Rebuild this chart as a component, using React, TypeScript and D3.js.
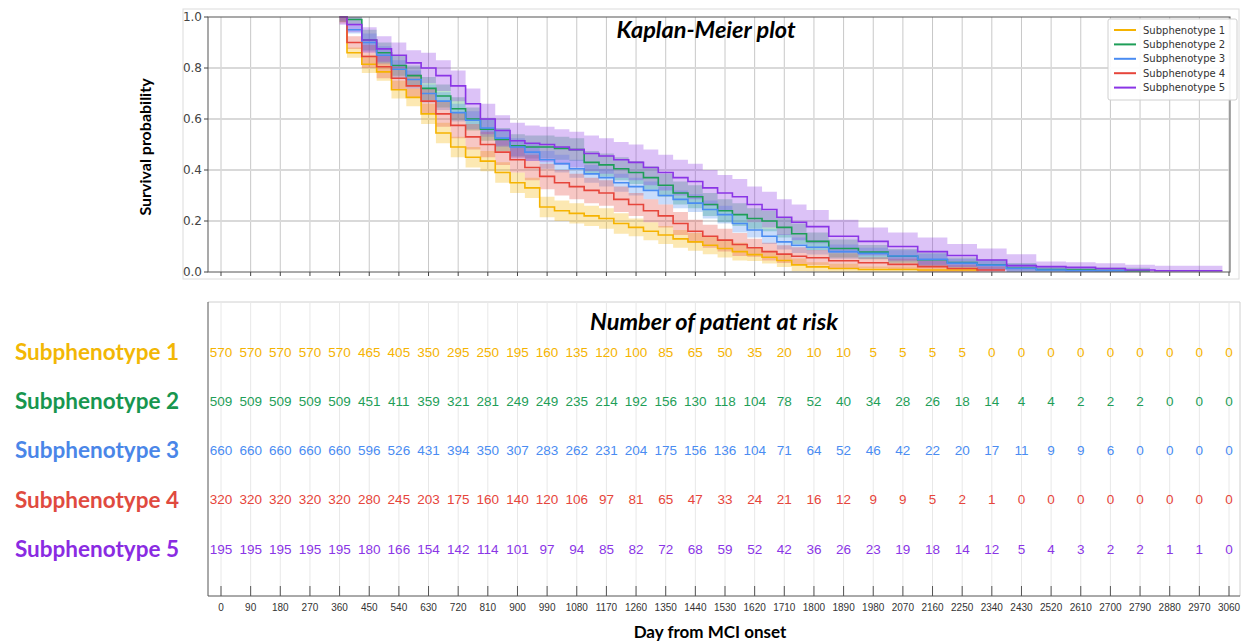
import React from "react";
import * as d3 from "d3";

const W = 1242;
const H = 641;

const groups = ["Subphenotype 1", "Subphenotype 2", "Subphenotype 3", "Subphenotype 4", "Subphenotype 5"];
const lineColors = ["#f5b301", "#1e9e58", "#4a8cf2", "#e6453b", "#8a35e6"];
const labelColors = ["#f2b705", "#17964f", "#4a86e8", "#e04a3f", "#8a2be2"];

// survival curve readings (day -> probability), null after the last event
const days = [360, 405, 450, 495, 540, 585, 630, 675, 720, 765, 810, 855, 900, 945, 990, 1035, 1080,
  1125, 1170, 1215, 1260, 1305, 1350, 1395, 1440, 1485, 1530, 1575, 1620, 1665, 1710, 1755, 1800,
  1890, 1980, 2070, 2160, 2250, 2340, 2430, 2520, 2610, 2700, 2790, 2880, 2970];

const surv1 = [1.0, 0.86, 0.815, 0.785, 0.715, 0.685, 0.62, 0.545, 0.49, 0.45, 0.435, 0.39, 0.35, 0.33, 0.255, 0.24, 0.23,
  0.22, 0.21, 0.19, 0.175, 0.16, 0.145, 0.13, 0.118, 0.105, 0.092, 0.08, 0.068, 0.058, 0.045, 0.028, 0.02,
  0.014, 0.01, 0.01, 0.008, 0.008, null, null, null, null, null, null, null, null];
const surv2 = [1.0, 0.99, 0.91, 0.86, 0.81, 0.77, 0.72, 0.69, 0.64, 0.6, 0.56, 0.52, 0.495, 0.49, 0.49, 0.485, 0.48,
  0.43, 0.42, 0.405, 0.39, 0.37, 0.34, 0.31, 0.295, 0.265, 0.24, 0.225, 0.21, 0.2, 0.175, 0.15, 0.12,
  0.092, 0.078, 0.062, 0.048, 0.037, 0.028, 0.015, 0.01, 0.008, 0.006, 0.005, null, null];
const surv3 = [1.0, 0.95, 0.9, 0.85, 0.795, 0.755, 0.7, 0.67, 0.625, 0.595, 0.565, 0.525, 0.49, 0.47, 0.44, 0.425, 0.405,
  0.385, 0.37, 0.35, 0.335, 0.32, 0.3, 0.285, 0.27, 0.245, 0.225, 0.19, 0.165, 0.14, 0.118, 0.105, 0.097,
  0.08, 0.073, 0.063, 0.05, 0.035, 0.027, 0.014, 0.008, 0.005, 0.005, null, null, null];
const surv4 = [1.0, 0.9, 0.845, 0.805, 0.76, 0.73, 0.67, 0.62, 0.575, 0.53, 0.5, 0.47, 0.44, 0.41, 0.375, 0.35, 0.335,
  0.32, 0.31, 0.285, 0.265, 0.24, 0.22, 0.19, 0.16, 0.14, 0.125, 0.108, 0.095, 0.08, 0.07, 0.062, 0.056,
  0.044, 0.036, 0.03, 0.021, 0.014, 0.008, null, null, null, null, null, null, null];
const surv5 = [1.0, 0.97, 0.91, 0.875, 0.85, 0.82, 0.8, 0.77, 0.73, 0.66, 0.6, 0.555, 0.515, 0.505, 0.5, 0.49, 0.48,
  0.465, 0.455, 0.44, 0.43, 0.41, 0.39, 0.37, 0.355, 0.33, 0.31, 0.295, 0.265, 0.245, 0.215, 0.195, 0.178,
  0.14, 0.12, 0.1, 0.08, 0.065, 0.047, 0.025, 0.021, 0.018, 0.014, 0.008, 0.005, 0.005];
const lastDay = [2300, 2820, 2750, 2380, 3040];

// half width of the confidence band, read per period
const ciDays = [360, 450, 630, 900, 1260, 1620, 1800, 1980, 2250, 2520];
const ci1 = [0.02, 0.035, 0.04, 0.04, 0.035, 0.025, 0.018, 0.012, 0.01, 0.01];
const ci2 = [0.02, 0.04, 0.045, 0.045, 0.045, 0.04, 0.035, 0.028, 0.02, 0.012];
const ci3 = [0.015, 0.035, 0.035, 0.035, 0.035, 0.03, 0.028, 0.022, 0.016, 0.01];
const ci4 = [0.025, 0.045, 0.05, 0.05, 0.045, 0.035, 0.03, 0.022, 0.014, 0.01];
const ci5 = [0.03, 0.05, 0.06, 0.07, 0.07, 0.07, 0.065, 0.055, 0.045, 0.02];

// number at risk table
const riskTicks = [0, 90, 180, 270, 360, 450, 540, 630, 720, 810, 900, 990, 1080, 1170, 1260, 1350, 1440, 1530,
  1620, 1710, 1800, 1890, 1980, 2070, 2160, 2250, 2340, 2430, 2520, 2610, 2700, 2790, 2880, 2970, 3060];
const risk1 = [570, 570, 570, 570, 570, 465, 405, 350, 295, 250, 195, 160, 135, 120, 100, 85, 65, 50, 35, 20, 10, 10,
  5, 5, 5, 5, 0, 0, 0, 0, 0, 0, 0, 0, 0];
const risk2 = [509, 509, 509, 509, 509, 451, 411, 359, 321, 281, 249, 249, 235, 214, 192, 156, 130, 118, 104, 78, 52, 40,
  34, 28, 26, 18, 14, 4, 4, 2, 2, 2, 0, 0, 0];
const risk3 = [660, 660, 660, 660, 660, 596, 526, 431, 394, 350, 307, 283, 262, 231, 204, 175, 156, 136, 104, 71, 64, 52,
  46, 42, 22, 20, 17, 11, 9, 9, 6, 0, 0, 0, 0];
const risk4 = [320, 320, 320, 320, 320, 280, 245, 203, 175, 160, 140, 120, 106, 97, 81, 65, 47, 33, 24, 21, 16, 12,
  9, 9, 5, 2, 1, 0, 0, 0, 0, 0, 0, 0, 0];
const risk5 = [195, 195, 195, 195, 195, 180, 166, 154, 142, 114, 101, 97, 94, 85, 82, 72, 68, 59, 52, 42, 36, 26,
  23, 19, 18, 14, 12, 5, 4, 3, 2, 2, 1, 1, 0];

const yTicks = [0, 0.2, 0.4, 0.6, 0.8, 1.0];

const survs = [surv1, surv2, surv3, surv4, surv5];
const cis = [ci1, ci2, ci3, ci4, ci5];
const risks = [risk1, risk2, risk3, risk4, risk5];

const x = d3.scaleLinear().domain([0, 3060]).range([221, 1229]);
const y = d3.scaleLinear().domain([0, 1]).range([272, 17]);
const rowY = d3.scalePoint<string>().domain(groups).range([352, 549]);

const titleFont = "Lato, 'Open Sans', sans-serif";
const tickFont = "'DejaVu Sans', sans-serif";
const numFont = "'Liberation Sans', Arial, sans-serif";

type Pt = { d: number; s: number; lo: number; hi: number };

const ciAt = (ci: number[], d: number) => ci[Math.max(0, d3.bisectRight(ciDays, d) - 1)];

function seriesPoints(i: number): Pt[] {
  const raw = days
    .map((d, k) => ({ d, s: survs[i][k] as number | null }))
    .filter((p) => p.s != null) as { d: number; s: number }[];
  raw.push({ d: lastDay[i], s: raw[raw.length - 1].s });
  return raw.map((p) => {
    const h = ciAt(cis[i], p.d);
    return { ...p, lo: Math.max(0, p.s - h), hi: Math.min(1, p.s + h) };
  });
}

const line = d3.line<Pt>().x((p) => x(p.d)).y((p) => y(p.s)).curve(d3.curveStep);
const band = d3.area<Pt>().x((p) => x(p.d)).y0((p) => y(p.lo)).y1((p) => y(p.hi)).curve(d3.curveStep);

export default function App() {
  const all = groups.map((_, i) => seriesPoints(i));
  return (
    <svg width={W} height={H} style={{ position: "absolute", left: 0, top: 0, background: "#fff" }}>
      {/* ---------- Kaplan-Meier panel ---------- */}
      <rect x={183} y={9} width={1056} height={270} fill="none" stroke="#dcdcdc" />
      {riskTicks.map((t) => (
        <line key={"gv" + t} x1={x(t)} x2={x(t)} y1={17} y2={272} stroke="#c8c8c8" strokeWidth={1} />
      ))}
      {yTicks.slice(1, 5).map((t) => (
        <line key={"gh" + t} x1={208} x2={1230} y1={y(t)} y2={y(t)} stroke="#d9d9d9" strokeWidth={2} />
      ))}
      {all.map((pts, i) => (
        <path key={"b" + i} d={band(pts) || ""} fill={lineColors[i]} fillOpacity={0.3} stroke="none" />
      ))}
      {all.map((pts, i) => (
        <path key={"l" + i} d={line(pts) || ""} fill="none" stroke={lineColors[i]} strokeWidth={1.6} />
      ))}
      <rect x={208} y={17} width={1022} height={255} fill="none" stroke="#555" strokeWidth={1} />
      {riskTicks.map((t) => (
        <line key={"tx" + t} x1={x(t)} x2={x(t)} y1={272} y2={276} stroke="#444" />
      ))}
      {yTicks.map((t) => (
        <g key={"ty" + t}>
          <line x1={204} x2={208} y1={y(t)} y2={y(t)} stroke="#444" />
          <text x={202} y={y(t)} dy="0.35em" textAnchor="end" fontSize={12} fontFamily={tickFont} fill="#444">
            {t.toFixed(1)}
          </text>
        </g>
      ))}
      <text x={706} y={38} textAnchor="middle" fontSize={23.5} fontWeight="bold" fontStyle="italic" fontFamily={titleFont}>
        Kaplan-Meier plot
      </text>
      <text
        transform="translate(151,147) rotate(-90)"
        textAnchor="middle"
        fontSize={16}
        fontWeight="bold"
        fontFamily={titleFont}
      >
        Survival probability
      </text>
      {/* legend */}
      <rect x={1108} y={19} width={129} height={81} rx={2} fill="#fff" fillOpacity={0.9} stroke="#d0d0d0" />
      {groups.map((g, i) => {
        const ly = 30 + i * 14.4;
        return (
          <g key={"lg" + i}>
            <line x1={1114} x2={1136} y1={ly} y2={ly} stroke={lineColors[i]} strokeWidth={2} />
            <text x={1143} y={ly} dy="0.35em" fontSize={10} fontFamily={tickFont} fill="#333">
              {g}
            </text>
          </g>
        );
      })}

      {/* ---------- number at risk panel ---------- */}
      <line x1={208} x2={1240} y1={302} y2={302} stroke="#d0d0d0" />
      <line x1={1240} x2={1240} y1={302} y2={596} stroke="#d0d0d0" />
      {riskTicks.map((t) => (
        <line key={"rg" + t} x1={x(t)} x2={x(t)} y1={302} y2={596} stroke="#e8e8e8" />
      ))}
      {groups.map((g, i) => (
        <g key={"row" + i}>
          <text
            x={97}
            y={rowY(g)}
            dy="0.35em"
            textAnchor="middle"
            fontSize={22.5}
            fontWeight="bold"
            fontFamily={titleFont}
            fill={labelColors[i]}
          >
            {g}
          </text>
          {risks[i].map((v, k) => (
            <text
              key={k}
              x={x(riskTicks[k])}
              y={rowY(g)}
              dy="0.35em"
              textAnchor="middle"
              fontSize={13.5}
              fontFamily={numFont}
              fill={lineColors[i]}
            >
              {v}
            </text>
          ))}
        </g>
      ))}
      <line x1={208} x2={208} y1={302} y2={596} stroke="#555" />
      <line x1={208} x2={1240} y1={596} y2={596} stroke="#555" />
      {riskTicks.map((t) => (
        <g key={"rt" + t}>
          <line x1={x(t)} x2={x(t)} y1={586} y2={596} stroke="#555" />
          <text x={x(t)} y={607} dy="0.35em" textAnchor="middle" fontSize={10} fontFamily={numFont} fill="#333">
            {t}
          </text>
        </g>
      ))}
      <text x={714} y={330} textAnchor="middle" fontSize={23.5} fontWeight="bold" fontStyle="italic" fontFamily={titleFont}>
        Number of patient at risk
      </text>
      <text x={710} y={638} textAnchor="middle" fontSize={17} fontWeight="bold" fontFamily={titleFont}>
        Day from MCI onset
      </text>
    </svg>
  );
}
